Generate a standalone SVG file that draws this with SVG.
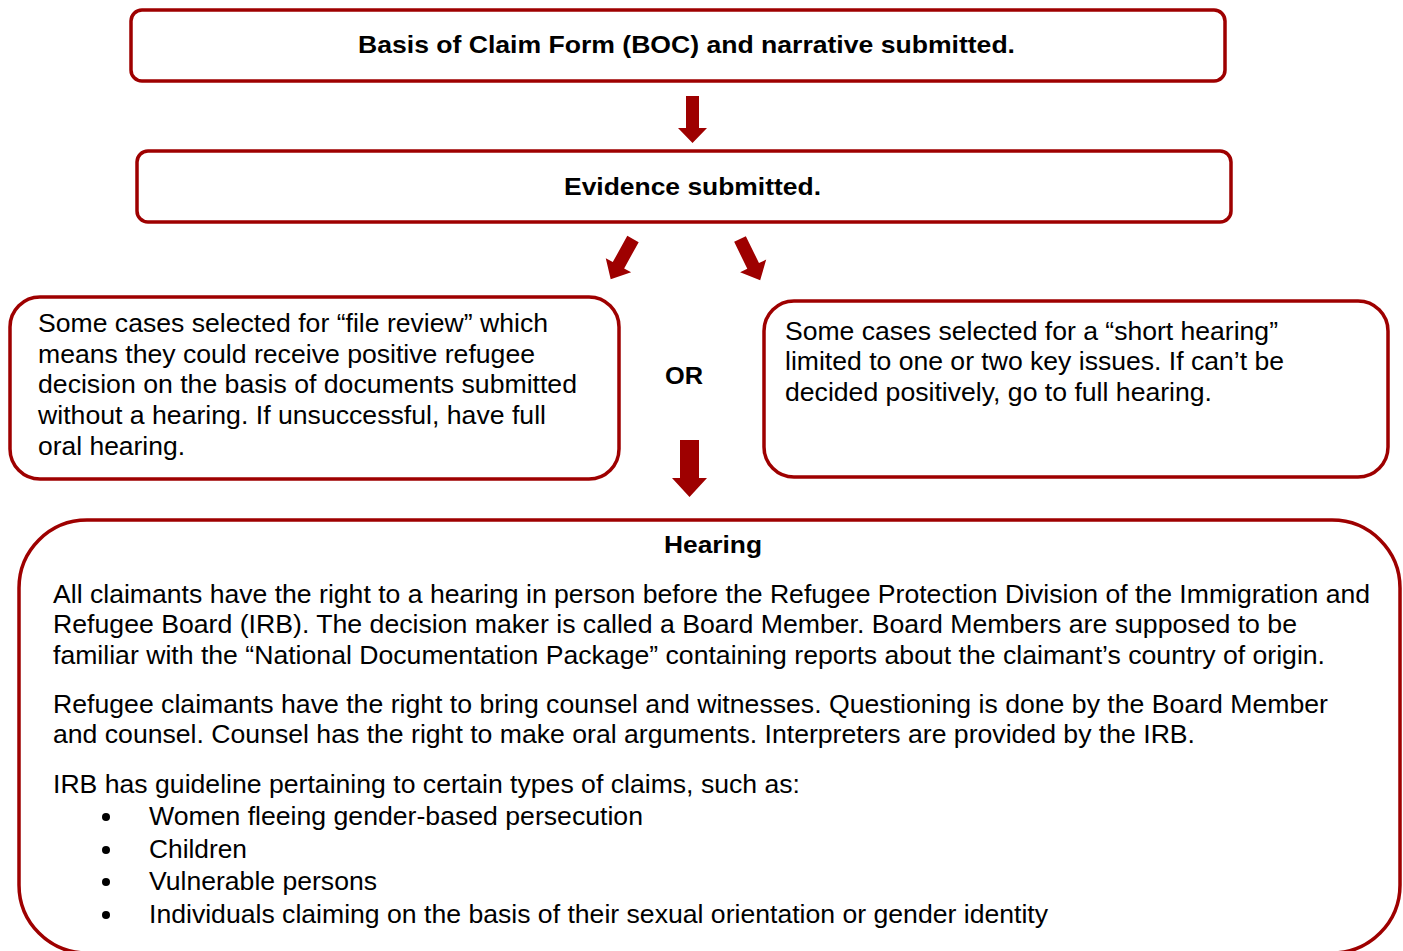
<svg xmlns="http://www.w3.org/2000/svg" width="1403" height="951" viewBox="0 0 1403 951">
<style>
.box{fill:#fff;stroke:#9e0000;stroke-width:3.5}
.t{font-family:"Liberation Sans",Arial,sans-serif;font-size:25px;fill:#000}
.b{font-weight:bold;font-size:24px}
.arr{fill:#9e0000}
</style>
<rect width="1403" height="951" fill="#fff"/>
<g id="n1"><rect class="box" x="131" y="10" width="1094" height="71" rx="11"/><text class="t b" x="358" y="53" textLength="657" lengthAdjust="spacingAndGlyphs">Basis of Claim Form (BOC) and narrative submitted.</text></g>
<g id="n2"><rect class="box" x="137" y="151" width="1094" height="71" rx="11"/><text class="t b" x="564" y="195" textLength="257" lengthAdjust="spacingAndGlyphs">Evidence submitted.</text></g>
<g id="n3"><rect class="box" x="10" y="297" width="609" height="182" rx="30"/>
<text class="t" x="38" y="332" textLength="510" lengthAdjust="spacingAndGlyphs">Some cases selected for “file review” which</text>
<text class="t" x="38" y="363" textLength="497" lengthAdjust="spacingAndGlyphs">means they could receive positive refugee</text>
<text class="t" x="38" y="393" textLength="539" lengthAdjust="spacingAndGlyphs">decision on the basis of documents submitted</text>
<text class="t" x="38" y="424" textLength="508" lengthAdjust="spacingAndGlyphs">without a hearing. If unsuccessful, have full</text>
<text class="t" x="38" y="455" textLength="147" lengthAdjust="spacingAndGlyphs">oral hearing.</text></g>
<g id="n4"><text class="t b" x="665" y="384" textLength="38" lengthAdjust="spacingAndGlyphs">OR</text></g>
<g id="n5"><rect class="box" x="764" y="301" width="624" height="176" rx="30"/>
<text class="t" x="785" y="340" textLength="493" lengthAdjust="spacingAndGlyphs">Some cases selected for a “short hearing”</text>
<text class="t" x="785" y="370" textLength="499" lengthAdjust="spacingAndGlyphs">limited to one or two key issues. If can’t be</text>
<text class="t" x="785" y="401" textLength="427" lengthAdjust="spacingAndGlyphs">decided positively, go to full hearing.</text></g>
<g id="n6"><rect class="box" x="19" y="520" width="1381" height="433" rx="68"/>
<text class="t b" x="664" y="553" textLength="98" lengthAdjust="spacingAndGlyphs">Hearing</text>
<text class="t" x="53" y="603" textLength="1317" lengthAdjust="spacingAndGlyphs">All claimants have the right to a hearing in person before the Refugee Protection Division of the Immigration and</text>
<text class="t" x="53" y="633" textLength="1244" lengthAdjust="spacingAndGlyphs">Refugee Board (IRB). The decision maker is called a Board Member. Board Members are supposed to be</text>
<text class="t" x="53" y="664" textLength="1272" lengthAdjust="spacingAndGlyphs">familiar with the “National Documentation Package” containing reports about the claimant’s country of origin.</text>
<text class="t" x="53" y="713" textLength="1275" lengthAdjust="spacingAndGlyphs">Refugee claimants have the right to bring counsel and witnesses. Questioning is done by the Board Member</text>
<text class="t" x="53" y="743" textLength="1142" lengthAdjust="spacingAndGlyphs">and counsel. Counsel has the right to make oral arguments. Interpreters are provided by the IRB.</text>
<text class="t" x="53" y="793" textLength="747" lengthAdjust="spacingAndGlyphs">IRB has guideline pertaining to certain types of claims, such as:</text>
<circle cx="106" cy="817" r="4"/><text class="t" x="149" y="825" textLength="494" lengthAdjust="spacingAndGlyphs">Women fleeing gender-based persecution</text>
<circle cx="106" cy="850" r="4"/><text class="t" x="149" y="858" textLength="98" lengthAdjust="spacingAndGlyphs">Children</text>
<circle cx="106" cy="882" r="4"/><text class="t" x="149" y="890" textLength="228" lengthAdjust="spacingAndGlyphs">Vulnerable persons</text>
<circle cx="106" cy="915" r="4"/><text class="t" x="149" y="923" textLength="899" lengthAdjust="spacingAndGlyphs">Individuals claiming on the basis of their sexual orientation or gender identity</text></g>
<g id="connectors">
<polygon class="arr" points="686,96 699,96 699,128 707,128 692.5,143 678,128 686,128"/>
<polygon class="arr" transform="translate(633,239) rotate(29)" points="-6.5,0 6.5,0 6.5,30 14.5,30 0,46 -14.5,30 -6.5,30"/>
<polygon class="arr" transform="translate(740,239) rotate(-26)" points="-6.5,0 6.5,0 6.5,30 14.5,30 0,46 -14.5,30 -6.5,30"/>
<polygon class="arr" points="680,440 699,440 699,478 707,478 689.5,497 672,478 680,478"/>
</g>
</svg>
